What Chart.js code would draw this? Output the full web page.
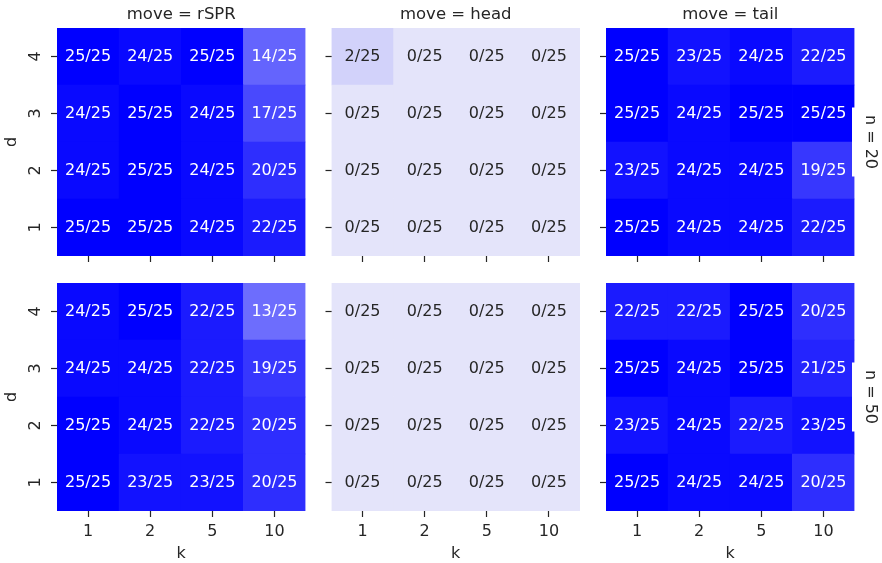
<!DOCTYPE html>
<html>
<head>
<meta charset="utf-8">
<script src="https://cdn.jsdelivr.net/npm/chart.js@4/dist/chart.umd.min.js"></script>
<style>
  body { margin: 0; background: #fff; }
  #wrap { position: relative; width: 882px; height: 563px; }
  #wrap canvas { position: absolute; left: 0; top: 0; }
</style>
</head>
<body>
<div id="wrap"></div>
<script>
const kValues = ["1", "2", "5", "10"];
const dValues = [1, 2, 3, 4];
const moves = ["rSPR", "head", "tail"];
const nValues = [20, 50];
const trials = 25;

// successful runs out of 25; one row per d (1..4), one column per k
const rsprN20 = [[25, 25, 24, 22], [24, 25, 24, 20], [24, 25, 24, 17], [25, 24, 25, 14]];
const headN20 = [[0, 0, 0, 0], [0, 0, 0, 0], [0, 0, 0, 0], [2, 0, 0, 0]];
const tailN20 = [[25, 24, 24, 22], [23, 24, 24, 19], [25, 24, 25, 25], [25, 23, 24, 22]];
const rsprN50 = [[25, 23, 23, 20], [25, 24, 22, 20], [24, 24, 22, 19], [24, 25, 22, 13]];
const headN50 = [[0, 0, 0, 0], [0, 0, 0, 0], [0, 0, 0, 0], [0, 0, 0, 0]];
const tailN50 = [[25, 24, 24, 20], [23, 24, 22, 23], [25, 24, 25, 21], [22, 22, 25, 20]];

const grid = [
    [rsprN20, headN20, tailN20],
    [rsprN50, headN50, tailN50]
];

const W = 882, H = 563;
const panelLeft = [57, 331.5, 606];
const panelTop = [28, 283];
const panelW = 248.5, panelH = 228;
const tickLen = 6;
const ink = "#262626";
const family = "'DejaVu Sans', sans-serif";
const low = [228, 228, 250];
const high = [0, 0, 255];

function shade(count) {
    const t = count / trials;
    const c = low.map((v, i) => Math.round(v + (high[i] - v) * t));
    return `rgb(${c[0]}, ${c[1]}, ${c[2]})`;
}

function labelColor(count) {
    const t = count / trials;
    const lin = low.map((v, i) => {
        const s = (v + (high[i] - v) * t) / 255;
        return s <= 0.03928 ? s / 12.92 : Math.pow((s + 0.055) / 1.055, 2.4);
    });
    const lum = 0.2126 * lin[0] + 0.7152 * lin[1] + 0.0722 * lin[2];
    return lum > 0.408 ? ink : "#fff";
}

const cellLabels = {
    id: "cellLabels",
    afterDatasetsDraw(chart) {
        const ctx = chart.ctx;
        ctx.save();
        ctx.font = `16px ${family}`;
        ctx.textAlign = "center";
        ctx.textBaseline = "middle";
        chart.data.datasets.forEach((ds, i) => {
            chart.getDatasetMeta(i).data.forEach((bar, j) => {
                const count = ds.data[j].count;
                const { x, y, base } = bar.getProps(["x", "y", "base"], true);
                ctx.fillStyle = labelColor(count);
                ctx.fillText(`${count}/${trials}`, x, (y + base) / 2);
            });
        });
        ctx.restore();
    }
};

const rowLabel = {
    id: "rowLabel",
    afterDraw(chart, args, opts) {
        if (!opts.text) return;
        const { ctx, chartArea } = chart;
        const cy = (chartArea.top + chartArea.bottom) / 2;
        ctx.save();
        ctx.fillStyle = "#fff";
        ctx.fillRect(chartArea.right - 2.5, cy - 34.5, W - chartArea.right + 2.5, 69);
        ctx.translate(chartArea.right + 15.5, cy);
        ctx.rotate(Math.PI / 2);
        ctx.font = `16px ${family}`;
        ctx.fillStyle = ink;
        ctx.textAlign = "center";
        ctx.textBaseline = "middle";
        ctx.fillText(opts.text, 0, 0);
        ctx.restore();
    }
};

function makePanel(row, col) {
    const counts = grid[row][col];
    const canvas = document.createElement("canvas");
    canvas.width = W;
    canvas.height = H;
    document.getElementById("wrap").appendChild(canvas);

    const left = panelLeft[col];
    const top = panelTop[row];
    const yAxisW = col === 0 ? left : tickLen;
    const xAxisH = row === 1 ? H - (top + panelH) : tickLen;
    const hasTitle = row === 0;

    new Chart(canvas, {
        type: "bar",
        data: {
            labels: kValues,
            datasets: dValues.map((d, r) => ({
                data: kValues.map((k, c) => ({ x: k, y: [d - 0.5, d + 0.5], count: counts[r][c] })),
                backgroundColor: ctx => ctx.raw ? shade(ctx.raw.count) : "#00f",
                borderWidth: 0,
                barPercentage: 1,
                categoryPercentage: 1,
                grouped: false
            }))
        },
        options: {
            responsive: false,
            animation: false,
            devicePixelRatio: 1,
            events: [],
            layout: {
                autoPadding: false,
                padding: {
                    left: left - yAxisW,
                    top: hasTitle ? 0 : top,
                    right: W - (left + panelW),
                    bottom: H - (top + panelH) - xAxisH
                }
            },
            plugins: {
                legend: { display: false },
                tooltip: { enabled: false },
                title: {
                    display: hasTitle,
                    fullSize: false,
                    text: `move = ${moves[col]}`,
                    color: ink,
                    font: { family, size: 16.5, weight: "normal" },
                    padding: { top: 5.1, bottom: 3.1 }
                },
                rowLabel: { text: col === 2 ? `n = ${nValues[row]}` : "" }
            },
            scales: {
                x: {
                    type: "category",
                    offset: true,
                    afterFit: s => { s.height = xAxisH; },
                    grid: { offset: false, drawOnChartArea: false, tickLength: tickLen, tickColor: ink, tickWidth: 1.2 },
                    border: { display: false },
                    ticks: {
                        callback: (v, i) => row === 1 ? kValues[i] : "",
                        maxRotation: 0,
                        padding: 5,
                        color: ink,
                        font: { family, size: 16 }
                    },
                    title: {
                        display: row === 1,
                        text: "k",
                        color: ink,
                        font: { family, size: 16 },
                        padding: { top: 0, bottom: 0 }
                    }
                },
                y: {
                    type: "linear",
                    min: 0.5,
                    max: 4.5,
                    afterBuildTicks: s => { s.ticks = dValues.map(v => ({ value: v })); },
                    afterFit: s => { s.width = yAxisW; },
                    grid: { drawOnChartArea: false, tickLength: tickLen, tickColor: ink, tickWidth: 1.2 },
                    border: { display: false },
                    ticks: {
                        callback: v => col === 0 ? String(v) : "",
                        minRotation: 90,
                        maxRotation: 90,
                        crossAlign: "center",
                        padding: 10,
                        color: ink,
                        font: { family, size: 16 }
                    },
                    title: {
                        display: col === 0,
                        text: "d",
                        color: ink,
                        font: { family, size: 16 },
                        padding: { top: 2, bottom: 0 }
                    }
                }
            }
        },
        plugins: [cellLabels, rowLabel]
    });
}

nValues.forEach((n, row) => moves.forEach((m, col) => makePanel(row, col)));
</script>
</body>
</html>
